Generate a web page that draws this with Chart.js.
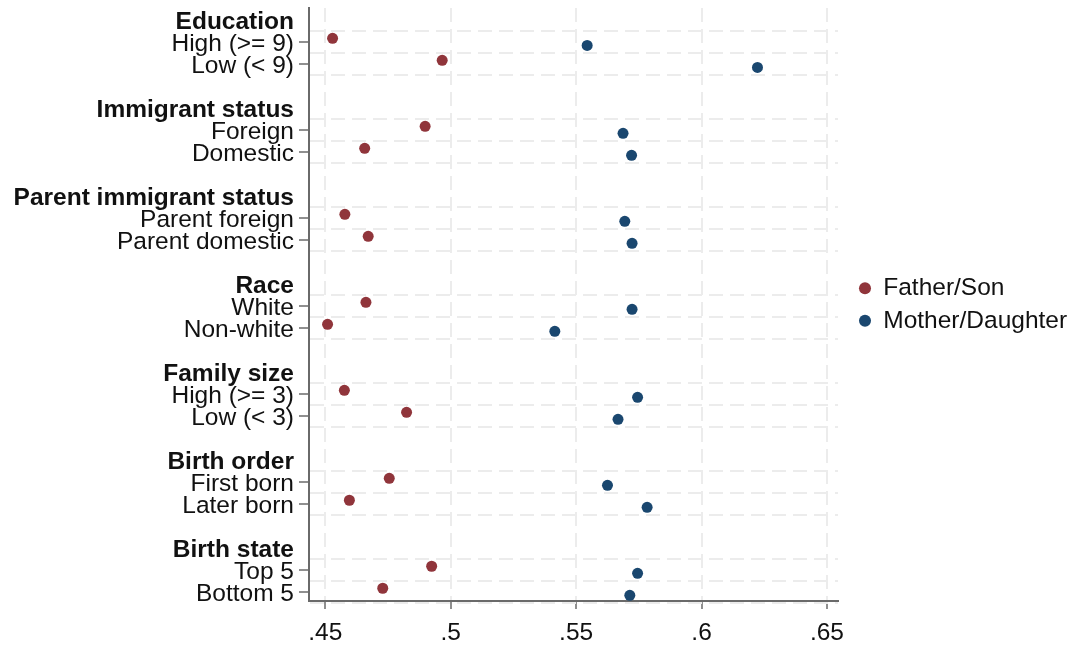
<!DOCTYPE html>
<html><head><meta charset="utf-8">
<script src="https://cdn.jsdelivr.net/npm/chart.js@4.4.1/dist/chart.umd.min.js"></script>
<style>html,body{margin:0;padding:0;background:#fff}#wrap{width:1073px;height:646px}</style>
</head><body><div id="wrap"><canvas id="c" width="1073" height="646"></canvas></div>
<script>
const groups = ['Education', 'Immigrant status', 'Parent immigrant status', 'Race', 'Family size', 'Birth order', 'Birth state'];
const categories = ['High (>= 9)', 'Low (< 9)', 'Foreign', 'Domestic', 'Parent foreign', 'Parent domestic', 'White', 'Non-white', 'High (>= 3)', 'Low (< 3)', 'First born', 'Later born', 'Top 5', 'Bottom 5'];
const fatherSon = [0.4529, 0.4966, 0.4898, 0.4657, 0.4578, 0.4671, 0.4662, 0.4509, 0.4576, 0.4824, 0.4755, 0.4596, 0.4924, 0.4729];
const motherDaughter = [0.5544, 0.6223, 0.5687, 0.5721, 0.5694, 0.5723, 0.5723, 0.5415, 0.5745, 0.5667, 0.5625, 0.5783, 0.5745, 0.5714];
const xTicks = [0.45, 0.5, 0.55, 0.6, 0.65];
const seriesNames = ['Father/Son', 'Mother/Daughter'];

const FONT = "'Liberation Sans', Arial, sans-serif";
const FS = 24.5;

// build row structure: header, items, blank gap
const rowLabels = [];
const headerRows = new Set();
const itemRows = [];
groups.forEach((g, gi) => {
  if (gi > 0) rowLabels.push('');
  headerRows.add(rowLabels.length);
  rowLabels.push(g);
  categories.slice(gi * 2, gi * 2 + 2).forEach(c => { itemRows.push(rowLabels.length); rowLabels.push(c); });
});
const itemSet = new Set(itemRows);
const gridSet = new Set();
itemRows.forEach(r => { gridSet.add(r - 0.5); gridSet.add(r + 0.5); });
const yTickValues = [];
rowLabels.forEach((_, i) => yTickValues.push(i));
gridSet.forEach(v => yTickValues.push(v));
yTickValues.sort((a, b) => a - b);

const GRID = '#ececec';
const AXIS = '#6a6a6a';
const DASH = [14, 7];

// let the legend use the room it needs on the right
const legendRoom = {
  id: 'legendRoom',
  beforeLayout(chart) {
    const lg = chart.legend;
    if (lg && !lg._roomPatched) {
      const orig = lg.update;
      lg.update = function (mw, mh, m) { const r = orig.call(this, 240, mh, m); this.width = 222; return r; };
      lg._roomPatched = true;
    }
  }
};

new Chart(document.getElementById('c'), {
  type: 'scatter',
  data: {
    datasets: [
      { label: seriesNames[0], data: fatherSon.map((v, i) => ({ x: v, y: itemRows[i] - 0.17 })),
        backgroundColor: '#90353B', borderColor: '#90353B', borderWidth: 0, pointRadius: 5.5, pointHoverRadius: 5.5 },
      { label: seriesNames[1], data: motherDaughter.map((v, i) => ({ x: v, y: itemRows[i] + 0.15 })),
        backgroundColor: '#1A476F', borderColor: '#1A476F', borderWidth: 0, pointRadius: 5.5, pointHoverRadius: 5.5 }
    ]
  },
  plugins: [legendRoom],
  options: {
    responsive: false, animation: false, devicePixelRatio: 1,
    layout: { padding: { left: 0, top: 8, right: 0, bottom: 0 } },
    plugins: {
      legend: { position: 'right', fullSize: false,
        labels: { usePointStyle: true, pointStyle: 'circle', boxWidth: 12, boxHeight: 8.5, padding: 8, color: '#111',
          font: { family: FONT, size: FS } } },
      tooltip: { enabled: false }
    },
    scales: {
      x: {
        type: 'linear', min: 0.4435, max: 0.6544,
        afterBuildTicks: s => { s.ticks = xTicks.map(v => ({ value: v })); },
        afterFit: s => { s.height = 45; s.paddingLeft = 0; s.paddingRight = 0; },
        ticks: { callback: v => String(+(+v).toFixed(2)).replace(/^0/, ''), color: '#111', font: { family: FONT, size: FS }, padding: 10, maxRotation: 0 },
        grid: { color: GRID, lineWidth: 2, tickColor: AXIS, tickLength: 8, tickWidth: 1.5 },
        border: { color: AXIS, width: 2, dash: DASH }
      },
      y: {
        type: 'linear', reverse: true, min: -0.55, max: 26.41,
        afterBuildTicks: s => { s.ticks = yTickValues.map(v => ({ value: v })); },
        afterFit: s => { s.width = 309; s.paddingTop = 0; s.paddingBottom = 0; },
        ticks: {
          autoSkip: false, padding: 5, color: '#111', labelOffset: 2,
          callback: v => Number.isInteger(v) ? rowLabels[v] : '',
          font: ctx => ({ family: FONT, size: FS, weight: headerRows.has(ctx.tick && ctx.tick.value) ? 'bold' : 'normal' })
        },
        grid: {
          lineWidth: 2, tickLength: 10, tickWidth: 1.5,
          color: ctx => (ctx.tick && gridSet.has(ctx.tick.value)) ? GRID : 'rgba(0,0,0,0)',
          tickColor: ctx => (ctx.tick && itemSet.has(ctx.tick.value)) ? AXIS : 'rgba(0,0,0,0)'
        },
        border: { color: AXIS, width: 2, dash: DASH }
      },
      yRight: {
        type: 'linear', position: 'right', display: true,
        afterFit: s => { s.width = 13; s.paddingTop = 0; s.paddingBottom = 0; },
        grid: { display: false }, ticks: { display: false }, border: { display: false }
      }
    }
  }
});
</script>
</body></html>
